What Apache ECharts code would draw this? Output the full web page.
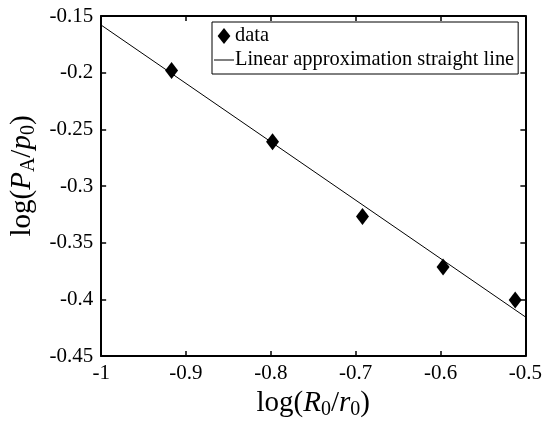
<!DOCTYPE html>
<html><head><meta charset="utf-8">
<script src="https://cdn.jsdelivr.net/npm/echarts@6/dist/echarts.min.js"></script>
<style>html,body{margin:0;padding:0;background:#fff}#c{width:545px;height:432px}</style>
</head><body><div id="c"></div>
<script>
const dataX = [-0.917, -0.798, -0.692, -0.597, -0.512];
const dataY = [-0.198, -0.261, -0.327, -0.3715, -0.4006];
const fitX = [-1, -0.5];
const fitY = [-0.158, -0.4155];
const seriesNames = ['data', 'Linear approximation straight line'];

const F = 'Liberation Serif';
const fmt = v => String(parseFloat(v.toFixed(2)));
const chart = echarts.init(document.getElementById('c'));
const axisCommon = {
  axisLine: {show: true, lineStyle: {color: '#000', width: 2}},
  axisTick: {show: true, inside: true, length: 5, lineStyle: {color: '#000', width: 1.5}},
  splitLine: {show: false}
};
const richName = {
  n: {fontFamily: F, fontSize: 29, color: '#000'},
  i: {fontFamily: F, fontSize: 29, fontStyle: 'italic', color: '#000'},
  s: {fontFamily: F, fontSize: 20, color: '#000', padding: [12, 0, 0, 0]}
};
chart.setOption({
  animation: false,
  backgroundColor: '#fff',
  grid: {left: 101, right: 18, top: 16, bottom: 76},
  legend: {
    orient: 'vertical', left: 212, top: 22,
    padding: [3, 4, 3, 2], itemGap: 2, itemWidth: 20, itemHeight: 16,
    borderColor: '#000', borderWidth: 1, backgroundColor: '#fff',
    textStyle: {fontFamily: F, fontSize: 20.4, lineHeight: 22, color: '#000', padding: [0, 0, 0, -4]},
    data: [
      {name: seriesNames[0], icon: 'path://M0,-1 L0.8,0 L0,1 L-0.8,0 Z'},
      {name: seriesNames[1], icon: 'path://M0,0 L20,0 L20,1 L0,1 Z'}
    ]
  },
  xAxis: [
    Object.assign({type: 'value', min: -1, max: -0.5, interval: 0.1, position: 'bottom',
      axisLabel: {fontFamily: F, fontSize: 21, color: '#000', margin: 7, formatter: fmt},
      name: '{n|log(}{i|R}{s|0}{n|/}{i|r}{s|0}{n|)}', nameLocation: 'middle', nameGap: 30,
      nameTextStyle: {rich: richName}
    }, axisCommon),
    Object.assign({type: 'value', min: -1, max: -0.5, interval: 0.1, position: 'top',
      axisLabel: {show: false}}, axisCommon)
  ],
  yAxis: [
    Object.assign({type: 'value', min: -0.45, max: -0.15, interval: 0.05, position: 'left',
      axisLabel: {fontFamily: F, fontSize: 21, color: '#000', margin: 8, formatter: fmt},
      name: '{n|log(}{i|P}{s|A}{n|/}{i|p}{s|0}{n|)}', nameLocation: 'middle', nameGap: 62, nameRotate: 90,
      nameTextStyle: {rich: richName, padding: [0, 0, 0, 20]}
    }, axisCommon),
    Object.assign({type: 'value', min: -0.45, max: -0.15, interval: 0.05, position: 'right',
      axisLabel: {show: false}}, axisCommon)
  ],
  series: [
    {name: seriesNames[0], type: 'scatter', symbol: 'diamond', symbolSize: [13, 17],
      itemStyle: {color: '#000', opacity: 1}, z: 3,
      data: dataX.map((x, i) => [x, dataY[i]])},
    {name: seriesNames[1], type: 'line', showSymbol: false, symbol: 'none',
      lineStyle: {color: '#000', width: 1}, itemStyle: {color: '#000'},
      data: fitX.map((x, i) => [x, fitY[i]])}
  ]
});
</script></body></html>
